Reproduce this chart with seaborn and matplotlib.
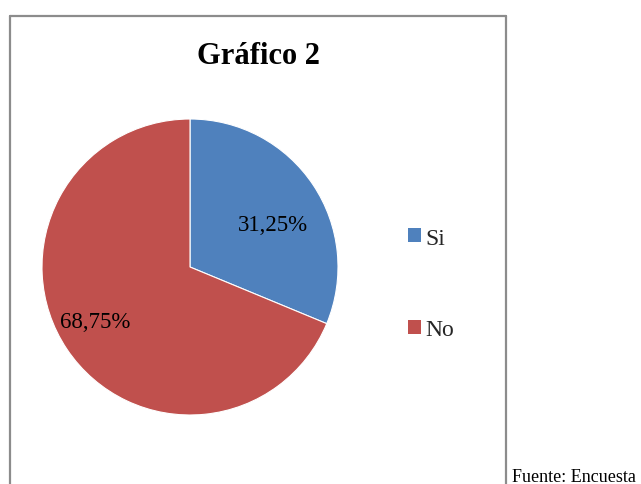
import matplotlib
matplotlib.use("Agg")
import matplotlib.pyplot as plt
import seaborn as sns
from matplotlib.patches import Patch
from matplotlib.lines import Line2D

categories = ["Si", "No"]
values = [31.25, 68.75]
pct_labels = ["31,25%", "68,75%"]
title = "Gráfico 2"
source = "Fuente: Encuesta"

sns.set_theme(style="white")
plt.rcParams['font.family'] = ['Liberation Serif', 'DejaVu Serif']

colors = ["#4F81BD", "#C0504D"]

W, H = 641, 485
fig = plt.figure(figsize=(W / 100, H / 100), dpi=100)
fig.patch.set_facecolor("white")

# chart frame (left, top, right borders; bottom beyond image)
frame_col = "#8c8c8c"
x0, x1, ytop = 10 / W, 506 / W, 1 - 17 / H
fig.add_artist(Line2D([x0, x0], [-0.05, ytop], transform=fig.transFigure, color=frame_col, lw=1.6))
fig.add_artist(Line2D([x0, x1], [ytop, ytop], transform=fig.transFigure, color=frame_col, lw=1.6))
fig.add_artist(Line2D([x1, x1], [ytop, -0.05], transform=fig.transFigure, color=frame_col, lw=1.6))

ax = fig.add_axes([42 / W, 1 - 416 / H, 296 / W, 296 / H])
wedges, _ = ax.pie(values, colors=colors, startangle=90, counterclock=False,
                   radius=1.0, wedgeprops=dict(linewidth=0.8, edgecolor="white"))
ax.set_xlim(-1, 1)
ax.set_ylim(-1, 1)
ax.set_aspect("equal")
ax.axis("off")

label_pos = [(0.56, 0.29), (-0.64, -0.365)]
for lbl, (px, py) in zip(pct_labels, label_pos):
    ax.text(px, py, lbl, ha="center", va="center", fontsize=16.5, color="black")

fig.text(258 / W, 1 - 57 / H, title, ha="center", va="center",
         fontsize=22, fontweight="bold", color="black")

handles = [Patch(facecolor=c, edgecolor="none") for c in colors]
fig.legend(handles, categories, loc="center left",
           bbox_to_anchor=(396 / W, 1 - 285 / H), frameon=False,
           fontsize=17, handlelength=0.55, handleheight=0.55,
           handletextpad=0.2, labelspacing=3.0, borderpad=0)

fig.text(512 / W, 1 - 478 / H, source, ha="left", va="center", fontsize=13, color="black")

fig.savefig("out.png", dpi=100, facecolor="white")
